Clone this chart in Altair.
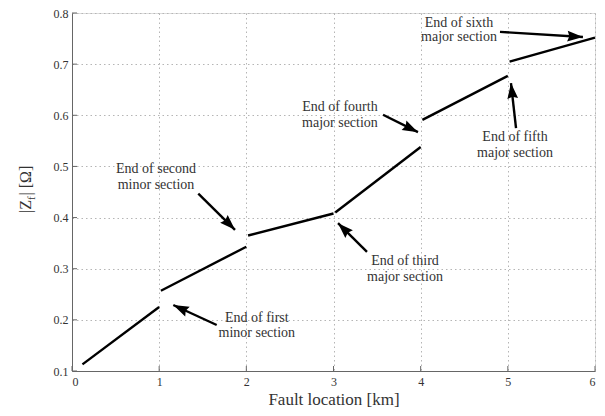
import math
import altair as alt
import pandas as pd

# ---- data ----
seg_id = [1, 1, 2, 2, 3, 3, 4, 4, 5, 5, 6, 6]
seg_x = [0.12, 1.0, 1.02, 2.0, 2.02, 3.0, 3.02, 4.0, 4.02, 5.0, 5.02, 6.0]
seg_y = [0.113, 0.225, 0.257, 0.343, 0.365, 0.408, 0.410, 0.538, 0.591, 0.677, 0.705, 0.752]

label_line1 = ["End of first", "End of second", "End of third", "End of fourth", "End of fifth", "End of sixth"]
label_line2 = ["minor section", "minor section", "major section", "major section", "major section", "major section"]
label_x = [2.12, 0.964, 3.82, 3.074, 5.082, 4.44]
label_y1 = [0.203, 0.494, 0.315, 0.616, 0.558, 0.780]
label_y2 = [0.174, 0.464, 0.284, 0.585, 0.526, 0.753]

arrow_x_tail = [1.66, 1.449, 3.384, 3.568, 5.094, 4.910]
arrow_y_tail = [0.190, 0.447, 0.333, 0.601, 0.575, 0.763]
arrow_x_head = [1.162, 1.870, 3.052, 3.969, 5.036, 5.862]
arrow_y_head = [0.229, 0.376, 0.389, 0.567, 0.663, 0.753]

x_ticks = [0, 1, 2, 3, 4, 5, 6]
y_ticks = [0.1, 0.2, 0.3, 0.4, 0.5, 0.6, 0.7, 0.8]

W, H = 523, 358
XD = [0, 6]
YD = [0.1, 0.8]
FONT = "Liberation Serif, Times New Roman, serif"
TXT = "#333333"

curve = pd.DataFrame({"seg": seg_id, "x": seg_x, "y": seg_y})
labels = pd.DataFrame({"x": label_x * 2, "y": label_y1 + label_y2, "t": label_line1 + label_line2})

px_per_x = W / (XD[1] - XD[0])
px_per_y = H / (YD[1] - YD[0])
angles = []
for xt, yt, xh, yh in zip(arrow_x_tail, arrow_y_tail, arrow_x_head, arrow_y_head):
    dx = (xh - xt) * px_per_x
    dy = -(yh - yt) * px_per_y
    angles.append(math.degrees(math.atan2(dx, -dy)) % 360)
arrows = pd.DataFrame({"x": arrow_x_tail, "y": arrow_y_tail, "x2": arrow_x_head,
                       "y2": arrow_y_head, "ang": angles})

xs = alt.Scale(domain=XD, nice=False, zero=False)
ys = alt.Scale(domain=YD, nice=False, zero=False)

base = alt.Chart(curve).mark_line(color="black", strokeWidth=2.4).encode(
    x=alt.X("x:Q", scale=xs, axis=alt.Axis(
        values=x_ticks, format="d", title="Fault location [km]", ticks=False,
        grid=True, gridDash=[1.5, 3], gridColor="#b5b5b5", gridWidth=1,
        domainColor="#666666", labelFont=FONT, labelFontSize=12, labelColor=TXT,
        labelPadding=5, titleFont=FONT, titleFontSize=17, titleFontWeight="normal",
        titleColor=TXT, titlePadding=4)),
    y=alt.Y("y:Q", scale=ys, axis=alt.Axis(
        values=y_ticks, format=".1f", title=None, ticks=False,
        grid=True, gridDash=[1.5, 3], gridColor="#b5b5b5", gridWidth=1,
        domainColor="#666666", labelFont=FONT, labelFontSize=12, labelColor=TXT,
        labelPadding=4)),
    detail="seg:N",
)

shafts = alt.Chart(arrows).mark_rule(color="black", strokeWidth=2.4).encode(
    x=alt.X("x:Q", scale=xs), y=alt.Y("y:Q", scale=ys), x2="x2:Q", y2="y2:Q")

heads = alt.Chart(arrows).mark_point(
    shape="M0,0L-0.55,1.6L0,1.4L0.55,1.6Z", filled=True, color="black", opacity=1,
    size=380, strokeWidth=0).encode(
    x=alt.X("x2:Q", scale=xs), y=alt.Y("y2:Q", scale=ys),
    angle=alt.Angle("ang:Q", scale=None))

texts = alt.Chart(labels).mark_text(font=FONT, fontSize=14, color=TXT,
                                    align="center", baseline="middle").encode(
    x=alt.X("x:Q", scale=xs), y=alt.Y("y:Q", scale=ys), text="t:N")

xt = alt.Chart(pd.DataFrame({"v": x_ticks})).mark_rule(color="#666666").encode(
    x=alt.X("v:Q", scale=xs), y=alt.value(H), y2=alt.value(H - 5))
yt = alt.Chart(pd.DataFrame({"v": y_ticks})).mark_rule(color="#666666").encode(
    y=alt.Y("v:Q", scale=ys), x=alt.value(0), x2=alt.value(5))

one = pd.DataFrame({"a": [0]})
yt1 = alt.Chart(one).mark_text(text="|Z", font=FONT, fontSize=16, color=TXT, angle=270,
                               align="left", baseline="alphabetic").encode(
    x=alt.value(-41), y=alt.value(200))
yt2 = alt.Chart(one).mark_text(text="f", font=FONT, fontSize=11, color=TXT, angle=270,
                               align="left", baseline="alphabetic", dx=13, dy=4).encode(
    x=alt.value(-41), y=alt.value(200))
yt3 = alt.Chart(one).mark_text(text="| [Ω]", font=FONT, fontSize=16, color=TXT, angle=270,
                               align="left", baseline="alphabetic", dx=17.5).encode(
    x=alt.value(-41), y=alt.value(200))

chart = alt.layer(base, shafts, heads, texts, xt, yt, yt1, yt2, yt3).properties(
    width=W, height=H,
    autosize=alt.AutoSizeParams(type="none"),
    padding={"left": 64, "top": 5, "right": 2, "bottom": 40},
).configure_view(stroke=None).configure(background="white")

chart.save("out.html", embed_options={"renderer": "svg", "actions": False})
